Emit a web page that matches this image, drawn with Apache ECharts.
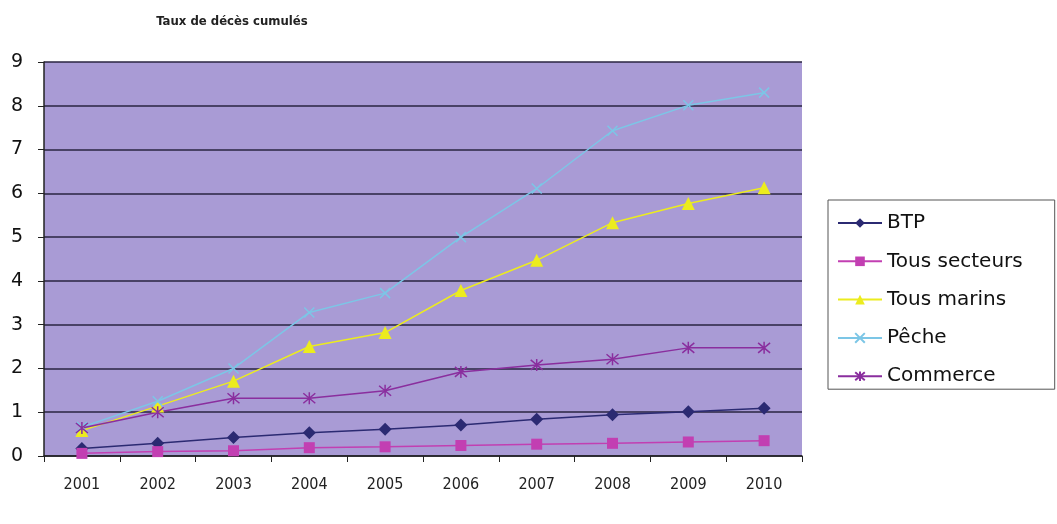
<!DOCTYPE html>
<html><head><meta charset="utf-8">
<script src="https://cdn.jsdelivr.net/npm/echarts@6/dist/echarts.min.js"></script>
<style>html,body{margin:0;padding:0;background:#fff}#c{width:1057px;height:524px}</style>
</head><body><div id="c"></div>
<script>
const years = ['2001','2002','2003','2004','2005','2006','2007','2008','2009','2010'];
const yTicks = [0,1,2,3,4,5,6,7,8,9];
const btp = [0.17,0.29,0.42,0.53,0.61,0.71,0.84,0.94,1.01,1.09];
const tousSecteurs = [0.06,0.10,0.12,0.19,0.21,0.24,0.27,0.29,0.32,0.35];
const tousMarins = [0.58,1.14,1.71,2.50,2.82,3.78,4.47,5.33,5.77,6.13];
const peche = [0.66,1.25,2.00,3.28,3.72,5.00,6.11,7.43,8.01,8.30];
const commerce = [0.64,1.00,1.32,1.32,1.49,1.92,2.08,2.21,2.47,2.47];

const chart = echarts.init(document.getElementById('c'));
const condensed = 'DejaVu Sans Condensed, Liberation Sans Narrow, sans-serif';
const sans = 'DejaVu Sans, sans-serif';
function mk(name, data, color, symbol, size, stroke) {
  return {
    name, type: 'line', data, symbol, symbolSize: size, showSymbol: true,
    lineStyle: {color, width: 1.5},
    itemStyle: stroke ? {color: 'transparent', borderColor: color, borderWidth: 1.5} : {color},
    emphasis: {disabled: true}
  };
}
chart.setOption({
  animation: false,
  backgroundColor: '#ffffff',
  title: {
    text: 'Taux de décès cumulés', left: 227, top: 10, textAlign: 'center',
    textStyle: {fontFamily: condensed, fontSize: 13, fontWeight: 'bold', color: '#222'}
  },
  grid: {left: 44, right: 255, top: 62, bottom: 68, show: true, backgroundColor: '#a99bd5', borderWidth: 0},
  legend: {
    orient: 'vertical', left: 828, top: 200,
    padding: [13, 32, 3, 9], itemGap: 18.3, itemWidth: 44, itemHeight: 12,
    borderColor: '#555', borderWidth: 1,
    textStyle: {fontFamily: sans, fontSize: 20, lineHeight: 20, color: '#111', padding: [0,0,0,0]},
    data: ['BTP','Tous secteurs','Tous marins','Pêche','Commerce']
  },
  xAxis: {
    type: 'category', data: years, boundaryGap: true,
    axisLine: {lineStyle: {color: '#222', width: 1.5}},
    axisTick: {show: true, length: 6, lineStyle: {color: '#222'}},
    axisLabel: {margin: 21, fontFamily: condensed, fontSize: 16, color: '#222'},
    splitLine: {show: false}
  },
  yAxis: {
    type: 'value', min: yTicks[0], max: yTicks[yTicks.length-1], interval: 1,
    axisLine: {show: true, lineStyle: {color: '#222', width: 1.5}},
    axisTick: {show: true, length: 6, lineStyle: {color: '#222'}},
    axisLabel: {margin: 21, fontFamily: sans, fontSize: 19, color: '#111'},
    splitLine: {show: true, lineStyle: {color: '#2a2440', width: 1.5}}
  },
  series: [
    mk('BTP', btp, '#2b2a72', 'diamond', 13, false),
    mk('Tous secteurs', tousSecteurs, '#c23fb2', 'rect', 11, false),
    mk('Tous marins', tousMarins, '#ecec1e', 'triangle', 13, false),
    mk('Pêche', peche, '#7cc6e6', 'path://M0,0L10,10M10,0L0,10', 10, true),
    mk('Commerce', commerce, '#8a2e9e', 'path://M0,0L10,10M10,0L0,10M5,-1L5,11', 12, true)
  ]
});
</script></body></html>
